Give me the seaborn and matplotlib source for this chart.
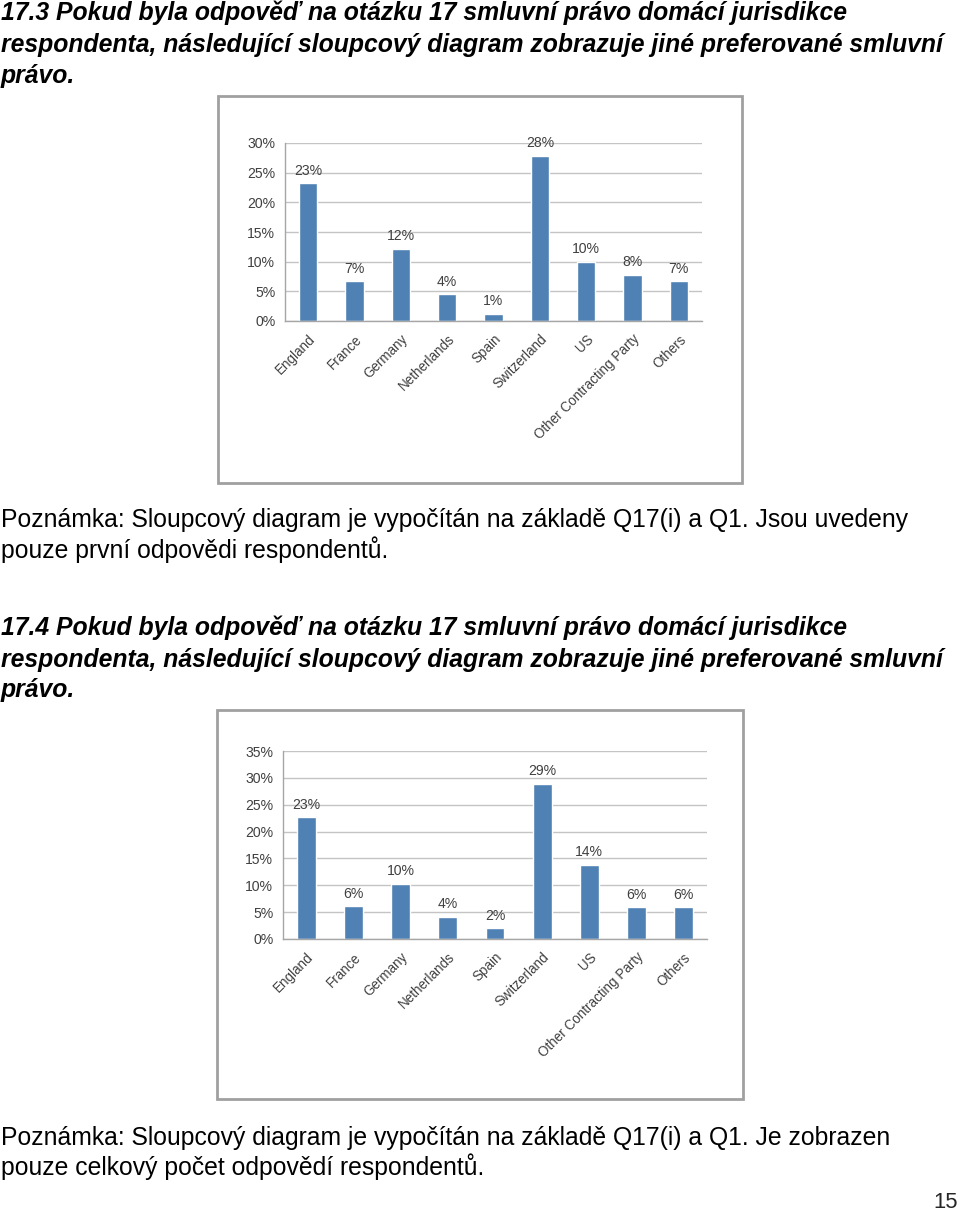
import seaborn as sns
import matplotlib.pyplot as plt
import matplotlib.patches as mpatches
import pandas as pd
import numpy as np

# Data (percent)
countries = ["England", "France", "Germany", "Netherlands", "Spain",
             "Switzerland", "US", "Other Contracting Party", "Others"]
values_173 = [23.2, 6.7, 12.2, 4.5, 1.2, 27.8, 10.0, 7.8, 6.7]
labels_173 = ["23%", "7%", "12%", "4%", "1%", "28%", "10%", "8%", "7%"]
values_174 = [22.7, 6.1, 10.3, 4.1, 2.0, 28.9, 13.8, 5.9, 5.9]
labels_174 = ["23%", "6%", "10%", "4%", "2%", "29%", "14%", "6%", "6%"]

heading = ["Pokud byla odpověď na otázku 17 smluvní právo domácí jurisdikce",
           "respondenta, následující sloupcový diagram zobrazuje jiné preferované smluvní",
           "právo."]
note_173 = ["Poznámka: Sloupcový diagram je vypočítán na základě Q17(i) a Q1. Jsou uvedeny",
            "pouze první odpovědi respondentů."]
note_174 = ["Poznámka: Sloupcový diagram je vypočítán na základě Q17(i) a Q1. Je zobrazen",
            "pouze celkový počet odpovědí respondentů."]

sns.set_style("white")
plt.rcParams['font.family'] = ['Liberation Sans', 'DejaVu Sans']

W, H = 960, 1212
fig = plt.figure(figsize=(W / 100, H / 100), dpi=100)
fig.patch.set_facecolor("white")

PX = 0.72  # points per pixel at 100 dpi


def ftext(x, y, s, **kw):
    fig.text(x / W, 1 - y / H, s, va="baseline", **kw)


# headings and notes
head_kw = dict(fontsize=24.7 * PX, fontweight="bold", style="italic", color="black")
note_kw = dict(fontsize=24.7 * PX, color="black")
for i, (y, s) in enumerate(zip([20, 52, 83], heading)):
    ftext(1, y, ("17.3 " if i == 0 else "") + s, **head_kw)
for y, s in zip([527, 558], note_173):
    ftext(1, y, s, **note_kw)
for i, (y, s) in enumerate(zip([635, 667, 697], heading)):
    ftext(1, y, ("17.4 " if i == 0 else "") + s, **head_kw)
for y, s in zip([1145, 1175], note_174):
    ftext(1, y, s, **note_kw)
ftext(958, 1208, "15", fontsize=22 * PX, ha="right")

bar_color = "#4f81b4"
txt_grey = "#404040"


def chart(box, plot, values, labels, ymax):
    # grey frame around the pasted chart image
    bx0, by0, bx1, by1 = box
    fig.patches.append(mpatches.Rectangle((bx0 / W, 1 - by1 / H), (bx1 - bx0) / W,
                                          (by1 - by0) / H, transform=fig.transFigure,
                                          fill=False, edgecolor="#a0a0a0", lw=2))
    x0, y0, x1, y1 = plot
    ax = fig.add_axes([x0 / W, 1 - y1 / H, (x1 - x0) / W, (y1 - y0) / H])
    df = pd.DataFrame({"country": countries, "value": values})
    sns.barplot(data=df, x="country", y="value", color=bar_color, width=0.4,
                saturation=1, ax=ax)
    ax.set_ylim(0, ymax)
    ax.set_xlim(-0.5, len(countries) - 0.5)
    ax.set_yticks(np.arange(0, ymax + 1, 5))
    ax.set_yticklabels([f"{t}%" for t in range(0, ymax + 1, 5)])
    ax.yaxis.grid(True, color="#c4c4c4", lw=1)
    ax.set_axisbelow(True)
    ax.set_xlabel("")
    ax.set_ylabel("")
    for side in ["top", "right"]:
        ax.spines[side].set_visible(False)
    for side in ["left", "bottom"]:
        ax.spines[side].set_color("#a6a6a6")
        ax.spines[side].set_linewidth(1)
    ax.tick_params(axis="y", labelsize=14 * PX, colors=txt_grey, length=4,
                   color="#a6a6a6", pad=3)
    ax.set_xticks(range(len(countries)))
    ax.set_xticklabels(countries, rotation=45, ha="right", rotation_mode="anchor",
                       fontsize=13.5 * PX, color=txt_grey)
    ax.tick_params(axis="x", length=0, pad=8)
    # small category separators under the axis
    ax.set_xticks(np.arange(-0.5, len(countries), 1), minor=True)
    ax.tick_params(axis="x", which="minor", length=4, color="#a6a6a6")
    ax.bar_label(ax.containers[0], labels=labels, padding=4,
                 fontsize=14 * PX, color=txt_grey)
    return ax


chart((218, 96, 742, 483), (285, 143, 702, 321), values_173, labels_173, 30)
chart((217, 710, 743, 1099), (283, 751, 707, 939), values_174, labels_174, 35)

fig.savefig("out.png", dpi=100, facecolor="white")
